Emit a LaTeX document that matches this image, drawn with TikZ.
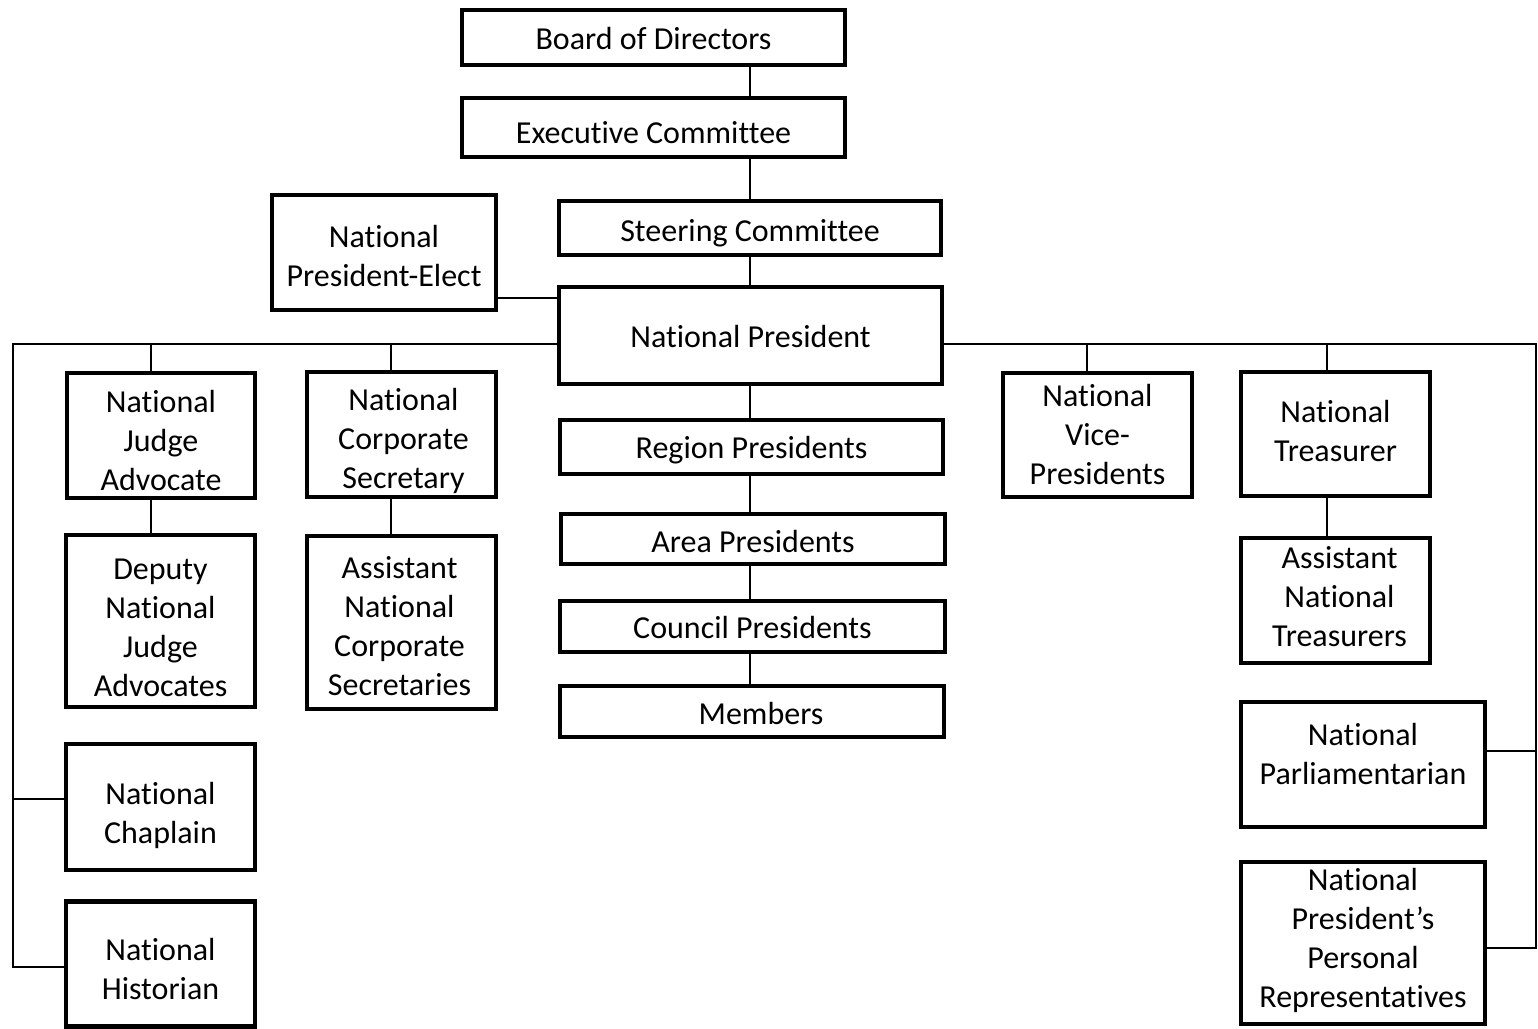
\documentclass[tikz,border=0pt]{standalone}
\usepackage{fontspec}
\setmainfont{Carlito}[Ligatures=NoCommon]
\newcommand\tx[2]{\raisebox{#1}[\height][\depth]{\begin{tabular}{@{}c@{}}#2\end{tabular}}}
\begin{document}
\begin{tikzpicture}[x=0.75pt,y=-0.75pt,
  box/.style={draw=black, line width=3.2pt, rectangle, inner sep=0pt,
    font=\fontsize{24}{29.25}\selectfont},
  bx/.style 2 args={minimum width=#1*0.75pt, minimum height=#2*0.75pt},
  conn/.style={draw=black, line width=1.3pt}]
\useasboundingbox (0,0) rectangle (1538,1028);

% centre column
\node[box,bx={383}{55}] (bod) at (653.5,37.5) {\tx{-3pt}{Board of Directors}};
\node[box,bx={383}{59}] (ec) at (653.5,127.5) {\tx{-5.8pt}{Executive Committee}};
\node[box,bx={382}{54}] (sc) at (750,228) {\tx{-4.3pt}{Steering Committee}};
\node[box,bx={383}{97}] (np) at (750.5,335.5) {\tx{-3pt}{National President}};
\node[box,bx={224}{115}] (pe) at (384,252.5) {\tx{-5.2pt}{National\\President-Elect}};
\node[box,bx={383}{54}] (rp) at (751.5,447) {\tx{-3pt}{Region Presidents}};
\node[box,bx={384}{50}] (ap) at (753,539) {\tx{-4.4pt}{Area Presidents}};
\node[box,bx={385}{51}] (cp) at (752.5,626.5) {\tx{-3pt}{Council Presidents}};
\node[box,bx={384}{51}] (mem) at (752,711.5) {\hspace*{13.5pt}\tx{-3.7pt}{Members}};

% left side
\node[box,bx={188}{125}] (ja) at (161,435.5) {\tx{-6pt}{National\\Judge\\Advocate}};
\node[box,bx={189}{172}] (dja) at (160.5,621) {\tx{-6.7pt}{Deputy\\National\\Judge\\Advocates}};
\node[box,bx={189}{126}] (chap) at (160.5,807) {\tx{-6.8pt}{National\\Chaplain}};
\node[box,bx={189}{125}] (hist) at (160.5,964) {\tx{-6.2pt}{National\\Historian}};
\node[box,bx={189}{125}] (cs) at (401.5,434.5) {\hspace*{3pt}\tx{-5.2pt}{National\\Corporate\\Secretary}};
\node[box,bx={189}{173}] (acs) at (401.5,622.5) {\tx{-5.2pt}{Assistant\\National\\Corporate\\Secretaries}\hspace*{3pt}};

% right side
\node[box,bx={189}{124}] (vp) at (1097.5,435) {\tx{-2.2pt}{National\\Vice-\\Presidents}};
\node[box,bx={189}{124}] (tr) at (1335.5,434) {\tx{0pt}{National\\Treasurer}};
\node[box,bx={189}{125}] (atr) at (1335.5,600.5) {\hspace*{6pt}\tx{0.8pt}{Assistant\\National\\Treasurers}};
\node[box,bx={244}{125}] (parl) at (1363,764.5) {\tx{5.3pt}{National\\Parliamentarian}};
\node[box,bx={244}{162}] (rep) at (1363,943) {\tx{1.3pt}{National\\President’s\\Personal\\Representatives}};

% helper coordinates
\coordinate (cx) at (750,0);
\coordinate (hl) at (13,344);
\coordinate (hr) at (1536,344);
\coordinate (pey) at (0,298);
\coordinate (chy) at (0,799);
\coordinate (hiy) at (0,967);
\coordinate (pay) at (0,751);
\coordinate (rey) at (0,948);
\coordinate (xja) at (151,0);
\coordinate (xcs) at (391,0);
\coordinate (xvp) at (1087,0);
\coordinate (xtr) at (1327,0);

% centre connectors
\draw[conn] (bod.south -| cx) -- (ec.north -| cx);
\draw[conn] (ec.south -| cx) -- (sc.north -| cx);
\draw[conn] (sc.south -| cx) -- (np.north -| cx);
\draw[conn] (np.south -| cx) -- (rp.north -| cx);
\draw[conn] (rp.south -| cx) -- (ap.north -| cx);
\draw[conn] (ap.south -| cx) -- (cp.north -| cx);
\draw[conn] (cp.south -| cx) -- (mem.north -| cx);
\draw[conn] (pe.east |- pey) -- (np.west |- pey);

% left connectors
\draw[conn] (np.west |- hl) -- (hl) -- (hl |- hiy) -- (hist.west |- hiy);
\draw[conn] (hl |- chy) -- (chap.west |- chy);
\draw[conn] (xja |- hl) -- (xja |- ja.north);
\draw[conn] (xcs |- hl) -- (xcs |- cs.north);
\draw[conn] (xja |- ja.south) -- (xja |- dja.north);
\draw[conn] (xcs |- cs.south) -- (xcs |- acs.north);

% right connectors
\draw[conn] (np.east |- hr) -- (hr) -- (hr |- rey) -- (rep.east |- rey);
\draw[conn] (hr |- pay) -- (parl.east |- pay);
\draw[conn] (xvp |- hr) -- (xvp |- vp.north);
\draw[conn] (xtr |- hr) -- (xtr |- tr.north);
\draw[conn] (xtr |- tr.south) -- (xtr |- atr.north);
\end{tikzpicture}
\end{document}
